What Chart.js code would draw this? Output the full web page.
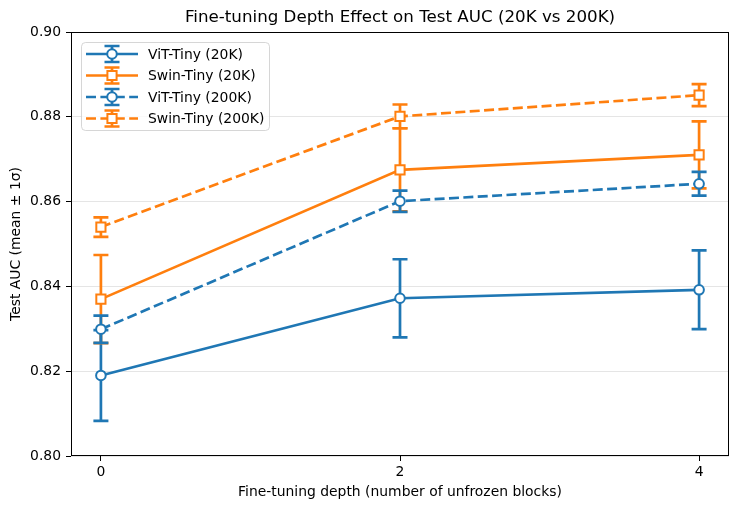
<!DOCTYPE html>
<html lang="en">
<head>
    <meta charset="UTF-8">
    <title>Fine-tuning Depth Effect on Test AUC</title>
    <script src="https://cdn.jsdelivr.net/npm/chart.js"></script>
    <style>
        body { margin: 0; padding: 0; background: white; }
        #wrap { width: 740px; height: 509px; }
    </style>
</head>
<body>
    <div id="wrap"><canvas id="chart"></canvas></div>

    <script>
        // depths on the x axis
        const depths = [0, 2, 4];

        // mean test AUC per depth
        const vit20kMean = [0.819, 0.8372, 0.8392];
        const swin20kMean = [0.837, 0.8675, 0.8710];
        const vit200kMean = [0.8299, 0.8601, 0.8642];
        const swin200kMean = [0.8540, 0.8801, 0.8851];

        // one std dev
        const vit20kStd = [0.0107, 0.0092, 0.0093];
        const swin20kStd = [0.0104, 0.0098, 0.0079];
        const vit200kStd = [0.0032, 0.0025, 0.0028];
        const swin200kStd = [0.0023, 0.0028, 0.0026];

        const yTicks = [0.80, 0.82, 0.84, 0.86, 0.88, 0.90];

        const TITLE = 'Fine-tuning Depth Effect on Test AUC (20K vs 200K)';
        const BLUE = '#1f77b4';
        const ORANGE = '#ff7f0e';
        const FONT = 'DejaVu Sans';
        const LW = 2.7;
        const CAP = 7.5;

        function series(label, means, stds, color, dashed, style) {
            return {
                label: label,
                data: depths.map((d, i) => ({ x: d, y: means[i] })),
                err: stds,
                borderColor: color,
                backgroundColor: 'white',
                borderWidth: LW,
                borderDash: dashed ? [10, 4.4] : [],
                pointStyle: style,
                pointRadius: style === 'rect' ? 6.5 : 4.8,
                pointBorderWidth: 2,
                pointBackgroundColor: 'white',
                pointBorderColor: color,
                tension: 0,
                fill: false
            };
        }

        const datasets = [
            series('ViT-Tiny (20K)', vit20kMean, vit20kStd, BLUE, false, 'circle'),
            series('Swin-Tiny (20K)', swin20kMean, swin20kStd, ORANGE, false, 'rect'),
            series('ViT-Tiny (200K)', vit200kMean, vit200kStd, BLUE, true, 'circle'),
            series('Swin-Tiny (200K)', swin200kMean, swin200kStd, ORANGE, true, 'rect')
        ];
        // matplotlib draws later series on top
        datasets.forEach((ds, i) => ds.order = datasets.length - i);

        function drawBar(ctx, px, top, bot) {
            ctx.beginPath();
            ctx.moveTo(px, top); ctx.lineTo(px, bot);
            ctx.moveTo(px - CAP, top); ctx.lineTo(px + CAP, top);
            ctx.moveTo(px - CAP, bot); ctx.lineTo(px + CAP, bot);
            ctx.stroke();
        }

        const errorBars = {
            id: 'errorBars',
            beforeDatasetDraw(chart, args) {
                const ds = chart.data.datasets[args.index];
                const xs = chart.scales.x, ys = chart.scales.y;
                const ctx = chart.ctx;
                ctx.save();
                ctx.strokeStyle = ds.borderColor;
                ctx.lineWidth = LW;
                ctx.setLineDash([]);
                ds.data.forEach((p, i) => {
                    drawBar(ctx, xs.getPixelForValue(p.x),
                        ys.getPixelForValue(p.y + ds.err[i]),
                        ys.getPixelForValue(p.y - ds.err[i]));
                });
                ctx.restore();
            }
        };

        const frameAndLegend = {
            id: 'frameAndLegend',
            afterDraw(chart) {
                const ctx = chart.ctx;
                const a = chart.chartArea;
                ctx.save();

                // title, centred over the plot area
                ctx.fillStyle = '#000';
                ctx.font = '16.7px "' + FONT + '"';
                ctx.textAlign = 'center';
                ctx.textBaseline = 'middle';
                ctx.fillText(TITLE, (a.left + a.right) / 2, 18);

                // box around the plot area
                ctx.strokeStyle = '#000';
                ctx.lineWidth = 1;
                ctx.strokeRect(Math.round(a.left) + 0.5, Math.round(a.top) + 0.5,
                    Math.round(a.right - a.left) - 1, Math.round(a.bottom - a.top) - 1);

                // legend box
                ctx.beginPath();
                ctx.roundRect(81.5, 42.5, 188, 88, 4);
                ctx.fillStyle = 'rgba(255,255,255,0.8)';
                ctx.fill();
                ctx.strokeStyle = 'rgba(204,204,204,0.8)';
                ctx.stroke();

                const rows = [54, 75.5, 97, 118.5];
                const cx = 112;
                chart.data.datasets.forEach((ds, i) => {
                    const y = rows[i];
                    ctx.strokeStyle = ds.borderColor;
                    ctx.lineWidth = LW;
                    ctx.setLineDash(ds.borderDash);
                    ctx.beginPath();
                    ctx.moveTo(86, y); ctx.lineTo(138, y);
                    ctx.stroke();
                    ctx.setLineDash([]);
                    drawBar(ctx, cx, y - 8, y + 8);
                    ctx.fillStyle = 'white';
                    ctx.lineWidth = 2;
                    Chart.helpers.drawPoint(ctx, {
                        pointStyle: ds.pointStyle,
                        radius: ds.pointRadius,
                        borderWidth: 2
                    }, cx, y);
                    ctx.fillStyle = '#000';
                    ctx.font = '13.9px "' + FONT + '"';
                    ctx.textAlign = 'left';
                    ctx.textBaseline = 'middle';
                    ctx.fillText(ds.label, 148, y + 1);
                });
                ctx.restore();
            }
        };

        new Chart(document.getElementById('chart'), {
            type: 'line',
            data: { datasets: datasets },
            options: {
                responsive: true,
                maintainAspectRatio: false,
                animation: false,
                layout: { padding: { top: 32, right: 11, left: 0, bottom: 0 } },
                plugins: {
                    legend: { display: false },
                    tooltip: { enabled: false }
                },
                scales: {
                    x: {
                        type: 'linear',
                        min: -0.2,
                        max: 4.2,
                        afterBuildTicks: s => { s.ticks = depths.map(v => ({ value: v })); },
                        afterFit: s => { s.height = 53; },
                        grid: { drawOnChartArea: false, tickColor: '#000', tickLength: 5 },
                        border: { display: false },
                        ticks: { color: '#000', font: { family: FONT, size: 13.9 }, padding: 3 },
                        title: {
                            display: true,
                            text: 'Fine-tuning depth (number of unfrozen blocks)',
                            color: '#000',
                            font: { family: FONT, size: 13.9 },
                            padding: { top: 0, bottom: 8.7 }
                        }
                    },
                    y: {
                        min: 0.80,
                        max: 0.90,
                        afterBuildTicks: s => { s.ticks = yTicks.map(v => ({ value: v })); },
                        afterFit: s => { s.width = 71; },
                        grid: { color: 'rgba(0,0,0,0.1)', tickColor: '#000', tickLength: 5 },
                        border: { display: false },
                        ticks: {
                            color: '#000',
                            font: { family: FONT, size: 13.9 },
                            padding: 5,
                            callback: v => v.toFixed(2)
                        },
                        title: {
                            display: true,
                            text: 'Test AUC (mean ± 1σ)',
                            color: '#000',
                            font: { family: FONT, size: 13.9 },
                            padding: { top: 7.7, bottom: 0 }
                        }
                    }
                }
            },
            plugins: [errorBars, frameAndLegend]
        });
    </script>
</body>
</html>
